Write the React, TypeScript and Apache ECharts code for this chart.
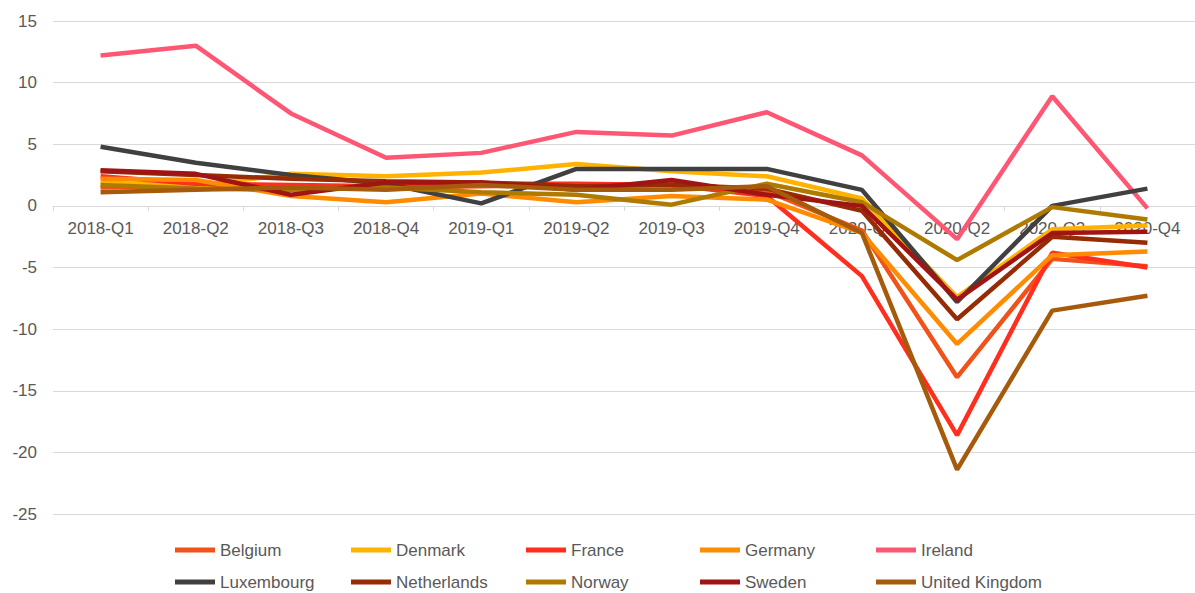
import React, { useEffect, useRef } from "react";
import * as echarts from "echarts";

const categories = [
  "2018-Q1", "2018-Q2", "2018-Q3", "2018-Q4",
  "2019-Q1", "2019-Q2", "2019-Q3", "2019-Q4",
  "2020-Q1", "2020-Q2", "2020-Q3", "2020-Q4",
];

const belgium = [1.5, 1.6, 1.5, 1.5, 1.6, 1.7, 1.8, 1.2, -2.0, -13.9, -4.3, -4.9];
const denmark = [1.9, 1.6, 2.6, 2.4, 2.7, 3.4, 2.8, 2.4, 0.6, -7.4, -1.9, -1.6];
const france = [2.4, 1.8, 1.7, 1.6, 1.8, 1.8, 1.7, 0.8, -5.7, -18.6, -3.8, -5.0];
const germany = [2.2, 2.1, 0.8, 0.3, 1.0, 0.3, 0.8, 0.5, -2.2, -11.2, -4.0, -3.7];
const ireland = [12.2, 13.0, 7.5, 3.9, 4.3, 6.0, 5.7, 7.6, 4.1, -2.7, 8.9, -0.2];
const luxembourg = [4.8, 3.5, 2.5, 1.8, 0.2, 3.0, 3.0, 3.0, 1.3, -7.8, 0.0, 1.4];
const netherlands = [2.8, 2.5, 2.2, 2.0, 1.9, 1.6, 1.7, 1.4, -0.4, -9.2, -2.5, -3.0];
const norway = [1.7, 1.4, 1.3, 1.5, 1.1, 0.9, 0.1, 1.8, 0.3, -4.4, -0.1, -1.1];
const sweden = [2.9, 2.6, 0.9, 1.9, 1.9, 1.3, 2.1, 0.9, 0.0, -7.6, -2.2, -2.1];
const unitedKingdom = [1.1, 1.3, 1.5, 1.3, 1.7, 1.3, 1.3, 1.6, -2.2, -21.4, -8.5, -7.3];

const seriesNames = [
  "Belgium", "Denmark", "France", "Germany", "Ireland",
  "Luxembourg", "Netherlands", "Norway", "Sweden", "United Kingdom",
];
const seriesValues = [
  belgium, denmark, france, germany, ireland,
  luxembourg, netherlands, norway, sweden, unitedKingdom,
];
const seriesColors = [
  "#F0521A", "#FFB300", "#FF2E1F", "#FF8C00", "#FF5674",
  "#404040", "#952C06", "#AE7A00", "#A01414", "#A65A0C",
];

const yTicks = { min: -25, max: 15, interval: 5 };

const FONT = "'Liberation Sans', Arial, sans-serif";
const GREY_TEXT = "#595959";
const GRID_COLOR = "#D9D9D9";

export default function App() {
  const ref = useRef<HTMLDivElement>(null);

  useEffect(() => {
    document.body.style.margin = "0";
    if (!ref.current) return;
    const chart = echarts.init(ref.current, undefined, { renderer: "svg" });

    const gridTop = 21;
    const gridHeight = 493;
    // place the category axis at value 0 (distance from grid bottom)
    const zeroOffset =
      (gridHeight * (0 - yTicks.min)) / (yTicks.max - yTicks.min);

    const legendLefts = [175, 351, 526, 700, 876];
    const legends = legendLefts.map((left, i) => ({
      orient: "vertical",
      left,
      top: 540,
      padding: 0,
      itemGap: 12,
      itemWidth: 40,
      itemHeight: 5,
      icon: "rect",
      data: [seriesNames[i], seriesNames[i + 5]],
      textStyle: {
        fontFamily: FONT,
        fontSize: 17,
        color: GREY_TEXT,
        lineHeight: 20,
      },
      selectedMode: false,
    }));

    chart.setOption({
      animation: false,
      backgroundColor: "#ffffff",
      textStyle: { fontFamily: FONT },
      grid: { left: 53, top: gridTop, width: 1144, height: gridHeight, containLabel: false },
      legend: legends,
      xAxis: {
        type: "category",
        data: categories,
        boundaryGap: true,
        position: "bottom",
        offset: -zeroOffset,
        axisLine: { onZero: false, lineStyle: { color: GRID_COLOR, width: 1 } },
        axisTick: { show: true, length: 5, lineStyle: { color: GRID_COLOR } },
        axisLabel: {
          fontFamily: FONT,
          fontSize: 17,
          color: GREY_TEXT,
          margin: 14,
        },
        splitLine: { show: false },
      },
      yAxis: {
        type: "value",
        min: yTicks.min,
        max: yTicks.max,
        interval: yTicks.interval,
        axisLine: { show: false },
        axisTick: { show: false },
        axisLabel: {
          fontFamily: FONT,
          fontSize: 17,
          color: GREY_TEXT,
          margin: 16,
        },
        splitLine: { lineStyle: { color: GRID_COLOR, width: 1 } },
      },
      series: seriesNames.map((name, i) => ({
        name,
        type: "line",
        data: seriesValues[i],
        symbol: "none",
        showSymbol: false,
        color: seriesColors[i],
        lineStyle: { width: 4.5, color: seriesColors[i] },
        itemStyle: { color: seriesColors[i] },
      })),
    });

    return () => {
      chart.dispose();
    };
  }, []);

  return (
    <div
      ref={ref}
      style={{ position: "absolute", left: 0, top: 0, width: 1195, height: 593 }}
    />
  );
}
